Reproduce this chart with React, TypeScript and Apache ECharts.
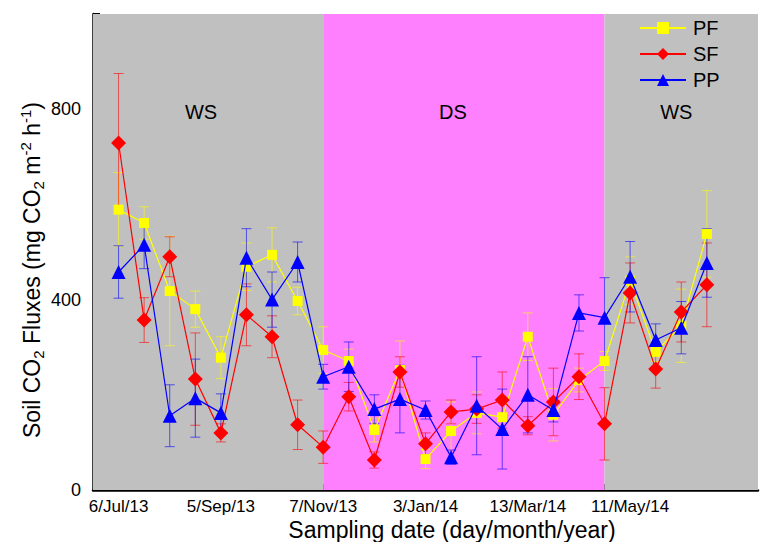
import React, { useEffect, useRef } from "react";
import * as echarts from "echarts";

// Sampling index positions that carry a date label, and the labels
const xLabelIdx = [0, 4, 8, 12, 16, 20];
const xLabels = ["6/Jul/13", "5/Sep/13", "7/Nov/13", "3/Jan/14", "13/Mar/14", "11/May/14"];
const majorTicks = [1, 3, 5, 7, 9, 11, 13, 15, 17, 20, 22, 24];
const minorTicks = [0, 2, 4, 6, 8, 10, 12, 14, 16, 18, 19, 21, 23];
const yLabelTicks = [0, 400, 800];
const yMinorTicks = [200, 600, 1000];

// Seasons (boundaries on the sampling index axis)
const seasonBounds = [-1, 8, 19, 25];
const seasonNames = ["WS", "DS", "WS"];

// Series values (mg CO2 m-2 h-1) and standard errors
const pf = [589, 561, 418, 380, 278, 469, 494, 397, 294, 271, 126, 252, 65, 124, 162, 153, 322, 158, 231, 271, 440, 290, 345, 538];
const pfErr = [78, 34, 115, 38, 44, 50, 57, 29, 49, 25, 25, 61, 20, 61, 44, 30, 50, 55, 25, 20, 50, 20, 77, 91];
const sf = [729, 357, 490, 233, 120, 368, 322, 137, 90, 196, 63, 248, 97, 164, 170, 189, 135, 185, 238, 139, 414, 254, 374, 431];
const sfErr = [146, 47, 42, 97, 19, 65, 44, 52, 34, 30, 17, 32, 23, 25, 30, 59, 19, 71, 48, 76, 63, 40, 63, 88];
const pp = [458, 515, 156, 193, 162, 488, 400, 479, 238, 259, 170, 191, 168, 69, 177, 128, 200, 168, 372, 362, 448, 315, 341, 477];
const ppErr = [55, 50, 65, 82, 40, 61, 58, 42, 26, 52, 30, 71, 19, 15, 103, 84, 80, 25, 38, 84, 74, 34, 55, 72];

const FONT = "'Liberation Sans', Arial, sans-serif";
const seasonColors = ["#C0C0C0", "#FF80FF", "#C0C0C0"];
const seasonLabelOffsets = [[-7, 0], [-11, 0], [-5, 0]];

function errRender(color: string) {
  return (params: any, api: any) => {
    const x = api.value(0);
    const y = api.value(1);
    const e = api.value(2);
    const hi = api.coord([x, y + e]);
    const lo = api.coord([x, y - e]);
    const w = 5;
    const style = { stroke: color, lineWidth: 1, opacity: 0.6 };
    return {
      type: "group",
      children: [
        { type: "line", shape: { x1: hi[0], y1: hi[1], x2: lo[0], y2: lo[1] }, style },
        { type: "line", shape: { x1: hi[0] - w, y1: hi[1], x2: hi[0] + w, y2: hi[1] }, style },
        { type: "line", shape: { x1: lo[0] - w, y1: lo[1], x2: lo[0] + w, y2: lo[1] }, style },
      ],
    };
  };
}

export default function App() {
  const ref = useRef<HTMLDivElement>(null);
  useEffect(() => {
    if (!ref.current) return;
    const chart = echarts.init(ref.current, undefined, { renderer: "svg" });

    const markAreaData = seasonNames.map((n, i) => [
      {
        xAxis: seasonBounds[i],
        name: n,
        itemStyle: { color: seasonColors[i] },
        label: { offset: seasonLabelOffsets[i] },
      },
      { xAxis: seasonBounds[i + 1] },
    ]);

    const lineSeries = (name: string, data: number[], color: string, symbol: string, size: number, z: number) => ({
      name,
      type: "line",
      xAxisIndex: 0,
      yAxisIndex: 0,
      data: data.map((v, i) => [i, v]),
      symbol,
      symbolSize: size,
      lineStyle: { color, width: 1.2 },
      itemStyle: { color },
      z,
    });

    const errSeries = (name: string, data: number[], err: number[], color: string, z: number) => ({
      name,
      type: "custom",
      xAxisIndex: 0,
      yAxisIndex: 0,
      renderItem: errRender(color),
      encode: { x: 0, y: 1 },
      data: data.map((v, i) => [i, v, err[i]]),
      z,
    });

    const option: any = {
      animation: false,
      textStyle: { fontFamily: FONT },
      grid: { left: 93, right: 2, top: 14, bottom: 52, containLabel: false },
      legend: {
        data: ["PF", "SF", "PP"],
        orient: "vertical",
        left: 634,
        top: 13,
        itemWidth: 46,
        itemHeight: 15,
        itemGap: 6,
        textStyle: { fontSize: 20, color: "#000", fontFamily: FONT, padding: [0, 0, 0, 2] },
      },
      xAxis: [
        {
          type: "value",
          min: -1,
          max: 25,
          interval: 1,
          position: "bottom",
          splitLine: { show: false },
          axisLine: { onZero: false, lineStyle: { color: "#000", width: 2.5 } },
          axisTick: { inside: true, length: 10, lineStyle: { color: "#000", width: 2 }, customValues: majorTicks },
          axisLabel: {
            customValues: xLabelIdx,
            formatter: (v: number) => {
              const k = xLabelIdx.indexOf(v);
              return k >= 0 ? xLabels[k] : "";
            },
            fontSize: 17,
            color: "#000",
            margin: 8,
            fontFamily: FONT,
          },
        },
        {
          type: "value",
          min: -1,
          max: 25,
          interval: 1,
          position: "bottom",
          splitLine: { show: false },
          axisLine: { show: false, onZero: false },
          axisTick: { inside: true, length: 6, lineStyle: { color: "#000", width: 2 }, customValues: minorTicks },
          axisLabel: { show: false },
        },
      ],
      yAxis: [
        {
          type: "value",
          min: 0,
          max: 1000,
          interval: 200,
          position: "left",
          splitLine: { show: false },
          axisLine: { show: true, onZero: false, lineStyle: { color: "#000", width: 2.5 } },
          axisTick: { show: true, inside: true, length: 10, lineStyle: { color: "#000", width: 2 }, customValues: yLabelTicks },
          axisLabel: { customValues: yLabelTicks, fontSize: 18, color: "#000", margin: 12, fontFamily: FONT },
        },
        {
          type: "value",
          min: 0,
          max: 1000,
          interval: 200,
          position: "left",
          splitLine: { show: false },
          axisLine: { show: false, onZero: false },
          axisTick: { show: true, inside: true, length: 7, lineStyle: { color: "#000", width: 2 }, customValues: yMinorTicks },
          axisLabel: { show: false },
        },
      ],
      series: [
        {
          name: "seasons",
          type: "line",
          xAxisIndex: 0,
          yAxisIndex: 0,
          data: [],
          z: 0,
          markArea: {
            silent: true,
            label: {
              show: true,
              position: "insideTop",
              distance: 88,
              fontSize: 20,
              color: "#000",
              fontFamily: FONT,
            },
            data: markAreaData,
          },
        },
        errSeries("PF err", pf, pfErr, "#FFFF00", 2),
        errSeries("SF err", sf, sfErr, "#FF0000", 2),
        errSeries("PP err", pp, ppErr, "#0000FF", 2),
        lineSeries("PF", pf, "#FFFF00", "rect", 10, 3),
        lineSeries("SF", sf, "#FF0000", "diamond", 15, 4),
        lineSeries("PP", pp, "#0000FF", "triangle", 14, 5),
      ],
      graphic: [
        {
          type: "text",
          x: 32,
          y: 270,
          rotation: Math.PI / 2,
          z: 10,
          style: {
            text: "{a|Soil CO}{s|2}{a| Fluxes (mg CO}{s|2}{a| m}{p|-2}{a| h}{p|-1}{a|)}",
            align: "center",
            verticalAlign: "middle",
            fill: "#000",
            rich: {
              a: { fontSize: 23, lineHeight: 28, fontFamily: FONT, fill: "#000" },
              s: { fontSize: 15, verticalAlign: "bottom", fontFamily: FONT, fill: "#000" },
              p: { fontSize: 15, verticalAlign: "top", fontFamily: FONT, fill: "#000" },
            },
          },
        },
        {
          type: "text",
          x: 452,
          y: 530,
          z: 10,
          style: {
            text: "Sampling date (day/month/year)",
            align: "center",
            verticalAlign: "middle",
            fill: "#000",
            fontSize: 23,
            fontFamily: FONT,
          },
        },
      ],
    };
    chart.setOption(option);
    return () => chart.dispose();
  }, []);
  return (
    <div
      ref={ref}
      style={{ position: "absolute", left: 0, top: 0, width: 760, height: 542, background: "#fff" }}
    />
  );
}
